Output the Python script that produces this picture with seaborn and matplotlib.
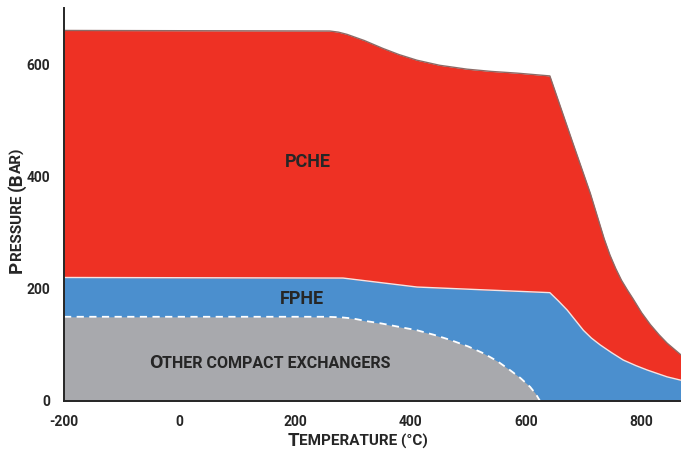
import matplotlib as mpl
mpl.use("Agg")
import matplotlib.pyplot as plt
import seaborn as sns

# boundaries: temperature (C) and pressure (bar)
pche_t = [-200, 260, 275, 290, 320, 352, 380, 411, 450, 498, 540, 584, 641,
          681, 711, 735, 745, 755, 765, 775, 785, 800, 815, 830, 844, 868]
pche_p = [660, 659, 657, 653, 642, 628, 617, 607, 598, 591, 587, 584, 579,
          459, 370, 289, 260, 236, 215, 198, 182, 157, 136, 118, 103, 82]

fphe_t = [-200, 283, 411, 641, 656, 671, 685, 699, 713, 728, 748, 768, 790, 810, 844, 868]
fphe_p = [220, 219, 203, 193, 178, 162, 144, 126, 112, 100, 86, 73, 63, 55, 43, 37]

other_t = [-200, 255, 280, 300, 325, 350, 370, 411, 440, 468, 500, 526, 550, 572,
           590, 607, 617, 624]
other_p = [150, 150, 149, 147, 142, 138, 134, 126, 118, 109, 97, 85, 71, 55,
           41, 25, 12, 0]

x_ticks = [-200, 0, 200, 400, 600, 800]
y_ticks = [0, 200, 400, 600]

red = "#EE3124"
blue = "#4B8FCE"
grey = "#A8A9AD"
ink = "#262626"

sns.set_style("white")
plt.rcParams['font.family'] = ['Roboto', 'DejaVu Sans']
plt.rcParams['axes.unicode_minus'] = False

fig = plt.figure(figsize=(6.81, 4.53), dpi=100)
ax = fig.add_axes([64/681, 52/453, 617/681, 393/453])

ax.fill_between(pche_t, pche_p, 0, color=red, lw=0)
ax.fill_between(fphe_t, fphe_p, 0, color=blue, lw=0)
ax.fill_between(other_t, other_p, 0, color=grey, lw=0)

sns.lineplot(x=pche_t, y=pche_p, ax=ax, color="#8C6A66", linewidth=1.0, sort=False)
sns.lineplot(x=fphe_t, y=fphe_p, ax=ax, color="#F4E4E4", linewidth=1.0, sort=False)
sns.lineplot(x=other_t, y=other_p, ax=ax, color="white", linewidth=1.3,
             linestyle=(0, (4, 3)), sort=False)

ax.set_xlim(-200, 868)
ax.set_ylim(0, 700)
ax.set_xticks(x_ticks)
ax.set_yticks(y_ticks)
ax.tick_params(direction="out", length=5, width=1.3, color=ink,
               labelsize=10, labelcolor=ink, pad=5)
for lab in ax.get_xticklabels() + ax.get_yticklabels():
    lab.set_fontweight("bold")
for s in ["top", "right"]:
    ax.spines[s].set_visible(False)
for s in ["left", "bottom"]:
    ax.spines[s].set_color(ink)
    ax.spines[s].set_linewidth(1.4)

ax.text(222, 425, "PCHE", ha="center", va="center", fontsize=13,
        fontweight="bold", color=ink)
ax.text(212, 182, "FPHE", ha="center", va="center", fontsize=13,
        fontweight="bold", color=ink)

renderer = fig.canvas.get_renderer()


def text_width(s, size):
    t = fig.text(0, 0, s, fontsize=size, fontweight="bold")
    w = t.get_window_extent(renderer).width
    t.remove()
    return w


def small_caps(center, baseline, parts, vertical=False):
    # lay out pieces of different sizes one after another to fake small capitals
    widths = [text_width(s, size) for s, size in parts]
    pos = center - sum(widths) / 2
    for (s, size), w in zip(parts, widths):
        if vertical:
            fig.text(baseline / 681, pos / 453, s, fontsize=size, fontweight="bold",
                     color=ink, rotation=90, rotation_mode="anchor",
                     ha="left", va="baseline")
        else:
            fig.text(pos / 681, baseline / 453, s, fontsize=size, fontweight="bold",
                     color=ink, ha="left", va="baseline")
        pos += w


small_caps(270, 85, [("O", 14), ("THER COMPACT EXCHANGERS", 11.5)])
small_caps(358, 7, [("T", 13.5), ("EMPERATURE (°C)", 11)])
small_caps(243, 22, [("P", 13.5), ("RESSURE ", 11), ("(B", 13.5), ("AR)", 11)],
           vertical=True)

fig.savefig("out.png", dpi=100)
